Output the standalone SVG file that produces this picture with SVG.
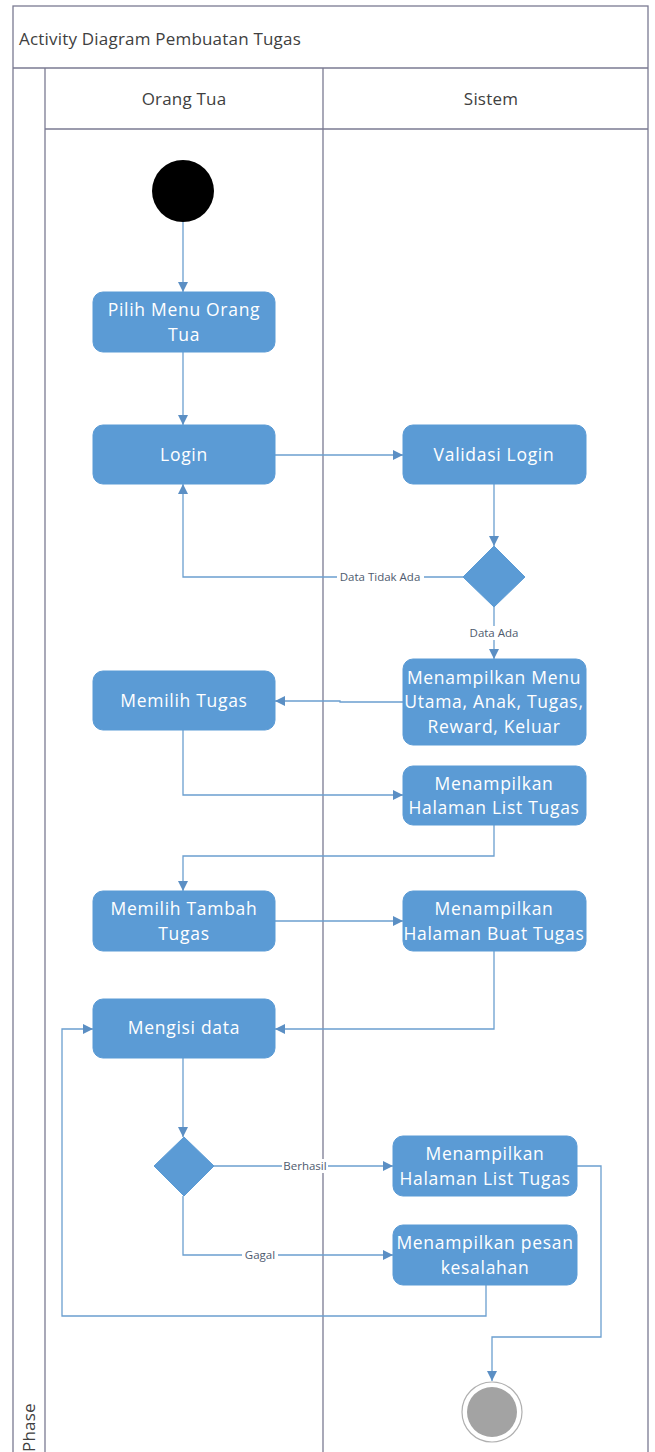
<svg xmlns="http://www.w3.org/2000/svg" width="655" height="1452" viewBox="0 0 655 1452">
  <style>
    .frame { fill: none; stroke: #7a7a92; stroke-width: 1.3; }
    .act { fill: #5b9bd5; stroke: #5b9bd5; }
    .act-text { fill: #ffffff; font-family: "Open Sans", "Liberation Sans", sans-serif; font-size: 17.5px; letter-spacing: 0.7px; text-anchor: middle; }
    .hdr { fill: #404040; font-family: "Open Sans", "Liberation Sans", sans-serif; font-size: 17px; letter-spacing: 0.2px; }
    .flow { fill: none; stroke: #6b9fcf; stroke-width: 1.3; }
    .lbl { fill: #4e5a6e; font-family: "Open Sans", "Liberation Sans", sans-serif; font-size: 11.5px; text-anchor: middle; }
    .lbl-bg { fill: #ffffff; }
  </style>
  <defs>
    <marker id="arrow" viewBox="0 0 10 10" refX="10" refY="5" markerWidth="10" markerHeight="10" markerUnits="userSpaceOnUse" orient="auto">
      <path d="M0,0 L10,5 L0,10 z" fill="#5b8fc4"/>
    </marker>
  </defs>

  <rect width="655" height="1452" fill="#ffffff"/>

  <!-- swimlane frame -->
  <g id="swimlanes">
    <rect class="frame" x="13" y="6" width="635" height="1460"/>
    <line class="frame" x1="13" y1="68" x2="648" y2="68"/>
    <line class="frame" x1="45" y1="68" x2="45" y2="1452"/>
    <line class="frame" x1="45" y1="129" x2="648" y2="129"/>
    <line class="frame" x1="323" y1="68" x2="323" y2="1452"/>
    <text class="hdr" x="19" y="45">Activity Diagram Pembuatan Tugas</text>
    <text class="hdr" x="184" y="105" text-anchor="middle">Orang Tua</text>
    <text class="hdr" x="491" y="105" text-anchor="middle">Sistem</text>
    <text class="hdr" x="0" y="0" transform="translate(35,1452) rotate(-90)">Phase</text>
  </g>

  <!-- control flows -->
  <g id="connectors">
    <path class="flow" d="M183,222 V292" marker-end="url(#arrow)"/>
    <path class="flow" d="M183,352 V425" marker-end="url(#arrow)"/>
    <path class="flow" d="M275,455 H403" marker-end="url(#arrow)"/>
    <path class="flow" d="M494,484 V546" marker-end="url(#arrow)"/>
    <path class="flow" d="M463,577 H183 V484" marker-end="url(#arrow)"/>
    <path class="flow" d="M494,607 V659" marker-end="url(#arrow)"/>
    <path class="flow" d="M403,702 H340 V701 H275" marker-end="url(#arrow)"/>
    <path class="flow" d="M183,730 V795 H403" marker-end="url(#arrow)"/>
    <path class="flow" d="M494,825 V856 H183 V891" marker-end="url(#arrow)"/>
    <path class="flow" d="M275,921 H403" marker-end="url(#arrow)"/>
    <path class="flow" d="M494,951 V1029 H275" marker-end="url(#arrow)"/>
    <path class="flow" d="M183,1058 V1137" marker-end="url(#arrow)"/>
    <path class="flow" d="M214,1166 H393" marker-end="url(#arrow)"/>
    <path class="flow" d="M183,1196 V1255 H393" marker-end="url(#arrow)"/>
    <path class="flow" d="M486,1285 V1316 H62 V1029 H93" marker-end="url(#arrow)"/>
    <path class="flow" d="M577,1166 H601 V1337 H492 V1381" marker-end="url(#arrow)"/>

    <rect class="lbl-bg" x="337" y="570" width="87" height="14"/>
    <text class="lbl" x="380" y="581">Data Tidak Ada</text>
    <rect class="lbl-bg" x="468" y="626" width="52" height="14"/>
    <text class="lbl" x="494" y="637">Data Ada</text>
    <rect class="lbl-bg" x="282" y="1159" width="46" height="14"/>
    <text class="lbl" x="305" y="1170">Berhasil</text>
    <rect class="lbl-bg" x="242" y="1248" width="36" height="14"/>
    <text class="lbl" x="260" y="1259">Gagal</text>
  </g>

  <g id="start">
    <circle cx="183" cy="191" r="31" fill="#000000"/>
  </g>

  <g id="pilih-menu">
    <rect class="act" x="93" y="292" width="182" height="60" rx="10"/>
    <text class="act-text" x="184" y="316">Pilih Menu Orang</text>
    <text class="act-text" x="184" y="341">Tua</text>
  </g>

  <g id="login">
    <rect class="act" x="93" y="425" width="182" height="59" rx="10"/>
    <text class="act-text" x="184" y="461">Login</text>
  </g>

  <g id="validasi-login">
    <rect class="act" x="403" y="425" width="183" height="59" rx="10"/>
    <text class="act-text" x="494" y="461">Validasi Login</text>
  </g>

  <g id="cek-login">
    <polygon class="act" points="494,546 525,577 494,607 463,577"/>
  </g>

  <g id="menu-utama">
    <rect class="act" x="403" y="659" width="183" height="86" rx="10"/>
    <text class="act-text" x="494" y="684">Menampilkan Menu</text>
    <text class="act-text" x="494" y="708">Utama, Anak, Tugas,</text>
    <text class="act-text" x="494" y="733">Reward, Keluar</text>
  </g>

  <g id="memilih-tugas">
    <rect class="act" x="93" y="671" width="182" height="59" rx="10"/>
    <text class="act-text" x="184" y="707">Memilih Tugas</text>
  </g>

  <g id="list-tugas">
    <rect class="act" x="403" y="766" width="183" height="59" rx="10"/>
    <text class="act-text" x="494" y="790">Menampilkan</text>
    <text class="act-text" x="494" y="814">Halaman List Tugas</text>
  </g>

  <g id="tambah-tugas">
    <rect class="act" x="93" y="891" width="182" height="60" rx="10"/>
    <text class="act-text" x="184" y="915">Memilih Tambah</text>
    <text class="act-text" x="184" y="940">Tugas</text>
  </g>

  <g id="buat-tugas">
    <rect class="act" x="403" y="891" width="183" height="60" rx="10"/>
    <text class="act-text" x="494" y="915">Menampilkan</text>
    <text class="act-text" x="494" y="940">Halaman Buat Tugas</text>
  </g>

  <g id="mengisi-data">
    <rect class="act" x="93" y="999" width="182" height="59" rx="10"/>
    <text class="act-text" x="184" y="1034">Mengisi data</text>
  </g>

  <g id="cek-simpan">
    <polygon class="act" points="184,1137 214,1166 184,1196 154,1166"/>
  </g>

  <g id="list-tugas-baru">
    <rect class="act" x="393" y="1136" width="184" height="60" rx="10"/>
    <text class="act-text" x="485" y="1160">Menampilkan</text>
    <text class="act-text" x="485" y="1185">Halaman List Tugas</text>
  </g>

  <g id="pesan-kesalahan">
    <rect class="act" x="393" y="1225" width="184" height="60" rx="10"/>
    <text class="act-text" x="485" y="1249">Menampilkan pesan</text>
    <text class="act-text" x="485" y="1274">kesalahan</text>
  </g>

  <g id="end">
    <circle cx="492" cy="1412" r="30" fill="#ffffff" stroke="#b0b0b0" stroke-width="1.2"/>
    <circle cx="492" cy="1412" r="25" fill="#a3a3a3"/>
  </g>
</svg>
